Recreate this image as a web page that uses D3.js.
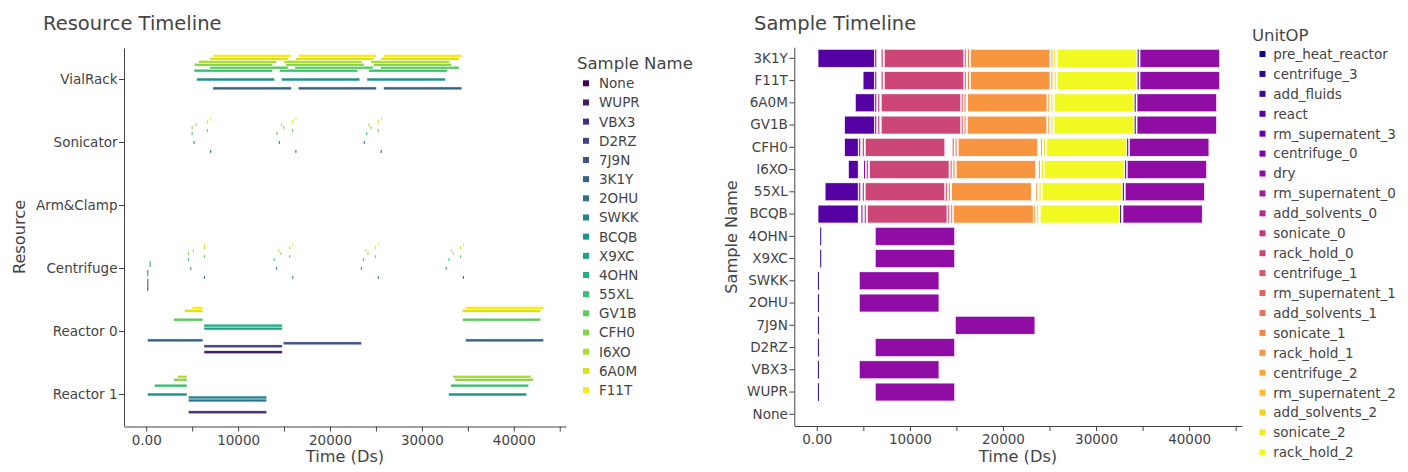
<!DOCTYPE html>
<html>
<head>
<meta charset="utf-8">
<script src="https://cdn.jsdelivr.net/npm/d3@7"></script>
<style>
  body { margin: 0; background: #fff; }
  svg { display: block; }
</style>
</head>
<body>
<svg id="chart" width="1408" height="472"></svg>
<script>
//Data
const samples = ['None', 'WUPR', 'VBX3', 'D2RZ', '7J9N', '3K1Y', '2OHU', 'SWKK', 'BCQB',
  'X9XC', '4OHN', '55XL', 'GV1B', 'CFH0', 'I6XO', '6A0M', 'F11T'];
const sampleRows = ['3K1Y', 'F11T', '6A0M', 'GV1B', 'CFH0', 'I6XO', '55XL', 'BCQB', '4OHN',
  'X9XC', 'SWKK', '2OHU', '7J9N', 'D2RZ', 'VBX3', 'WUPR', 'None'];
const resources = ['VialRack', 'Sonicator', 'Arm&Clamp', 'Centrifuge', 'Reactor 0', 'Reactor 1'];
const unitOps = ['pre_heat_reactor', 'centrifuge_3', 'add_fluids', 'react', 'rm_supernatent_3',
  'centrifuge_0', 'dry', 'rm_supernatent_0', 'add_solvents_0', 'sonicate_0', 'rack_hold_0',
  'centrifuge_1', 'rm_supernatent_1', 'add_solvents_1', 'sonicate_1', 'rack_hold_1',
  'centrifuge_2', 'rm_supernatent_2', 'add_solvents_2', 'sonicate_2', 'rack_hold_2'];
const xTicks = [0, 5000, 10000, 15000, 20000, 25000, 30000, 35000, 40000, 45000];
const xTickLabels = ['0.00', '', '10000', '', '20000', '', '30000', '', '40000', ''];

// [sample, resource, start, end]
const react = [
  ['3K1Y', 'Reactor 0', 140, 6170],
  ['F11T', 'Reactor 0', 4980, 6170],
  ['6A0M', 'Reactor 0', 4160, 6170],
  ['GV1B', 'Reactor 0', 3000, 6170],
  ['CFH0', 'Reactor 1', 3000, 4440],
  ['I6XO', 'Reactor 1', 3420, 4440],
  ['55XL', 'Reactor 1', 900, 4440],
  ['BCQB', 'Reactor 1', 140, 4440]
];
const dry = [
  ['3K1Y', 'Reactor 0', 34730, 43250],
  ['F11T', 'Reactor 0', 34730, 43250],
  ['6A0M', 'Reactor 0', 34410, 42930],
  ['GV1B', 'Reactor 0', 34410, 42930],
  ['CFH0', 'Reactor 1', 33600, 42120],
  ['I6XO', 'Reactor 1', 33370, 41860],
  ['55XL', 'Reactor 1', 33140, 41630],
  ['BCQB', 'Reactor 1', 32900, 41400],
  ['4OHN', 'Reactor 0', 6290, 14800],
  ['X9XC', 'Reactor 0', 6290, 14800],
  ['SWKK', 'Reactor 1', 4580, 13120],
  ['2OHU', 'Reactor 1', 4580, 13120],
  ['7J9N', 'Reactor 0', 14900, 23430],
  ['D2RZ', 'Reactor 0', 6290, 14800],
  ['VBX3', 'Reactor 1', 4580, 13120],
  ['WUPR', 'Reactor 0', 6290, 14800]
];

// [sample, start, end]  (VialRack)
const rackHold0 = [
  ['3K1Y', 7260, 15780], ['F11T', 7260, 15770], ['6A0M', 6935, 15445], ['GV1B', 6935, 15445],
  ['CFH0', 5225, 13750], ['I6XO', 5680, 14200], ['55XL', 5205, 13730], ['BCQB', 5460, 13980]
];
const rackHold1 = [
  ['3K1Y', 16540, 25045], ['F11T', 16540, 25045], ['6A0M', 16220, 24720], ['GV1B', 16180, 24690],
  ['CFH0', 15210, 23715], ['I6XO', 14990, 23480], ['55XL', 14500, 23030], ['BCQB', 14720, 23245]
];
const rackHold2 = [
  ['3K1Y', 25830, 34350], ['F11T', 25845, 34350], ['6A0M', 25540, 34050], ['GV1B', 25500, 34050],
  ['CFH0', 24720, 33250], ['I6XO', 24450, 33000], ['55XL', 24220, 32745], ['BCQB', 24020, 32550]
];

// [sample, start, end]  (Centrifuge)
const centrifuge0 = [
  ['3K1Y', 6280, 6360], ['F11T', 6280, 6360], ['6A0M', 6280, 6360], ['GV1B', 6280, 6360],
  ['CFH0', 4560, 4640], ['I6XO', 5080, 5160], ['55XL', 4560, 4640], ['BCQB', 4800, 4880]
];
const centrifuge1 = [
  ['3K1Y', 15900, 15980], ['F11T', 15900, 15980], ['6A0M', 15570, 15650], ['GV1B', 15570, 15650],
  ['CFH0', 14600, 14680], ['I6XO', 14380, 14460], ['55XL', 13870, 13950], ['BCQB', 14120, 14200]
];
const centrifuge2 = [
  ['3K1Y', 25200, 25280], ['F11T', 25200, 25280], ['6A0M', 24870, 24950], ['GV1B', 24870, 24950],
  ['CFH0', 24080, 24160], ['I6XO', 23860, 23940], ['55XL', 23570, 23650], ['BCQB', 23360, 23440]
];
const centrifuge3 = [
  ['3K1Y', 34470, 34550], ['F11T', 34470, 34550], ['6A0M', 34150, 34230], ['GV1B', 34150, 34230],
  ['CFH0', 33350, 33430], ['I6XO', 33130, 33210], ['55XL', 32880, 32960], ['BCQB', 32590, 32670],
  ['4OHN', 370, 450], ['X9XC', 370, 450], ['SWKK', 120, 200], ['2OHU', 120, 200],
  ['7J9N', 120, 200], ['D2RZ', 120, 200], ['VBX3', 120, 200], ['WUPR', 120, 200]
];

// [sample, start, end]  (Sonicator)
const sonicate0 = [
  ['3K1Y', 6960, 7080], ['F11T', 6960, 7080], ['6A0M', 6600, 6720], ['GV1B', 6600, 6720],
  ['CFH0', 4940, 5060], ['I6XO', 5370, 5490], ['55XL', 4940, 5060], ['BCQB', 5150, 5270]
];
const sonicate1 = [
  ['3K1Y', 16230, 16350], ['F11T', 16230, 16350], ['6A0M', 15870, 15990], ['GV1B', 15870, 15990],
  ['CFH0', 14900, 15020], ['I6XO', 14680, 14800], ['55XL', 14180, 14300], ['BCQB', 14430, 14550]
];
const sonicate2 = [
  ['3K1Y', 25510, 25630], ['F11T', 25550, 25670], ['6A0M', 25190, 25310], ['GV1B', 25190, 25310],
  ['CFH0', 24400, 24520], ['I6XO', 24180, 24300], ['55XL', 23930, 24050], ['BCQB', 23670, 23790]
];

//Flatten into one task list
const tasks = [];
const addRows = (rows, op, resource) => rows.forEach(r => {
  if (r.length === 4) tasks.push({ sample: r[0], op, resource: r[1], start: r[2], end: r[3] });
  else tasks.push({ sample: r[0], op, resource, start: r[1], end: r[2] });
});
addRows(react, 'react');
addRows(centrifuge0, 'centrifuge_0', 'Centrifuge');
addRows(sonicate0, 'sonicate_0', 'Sonicator');
addRows(rackHold0, 'rack_hold_0', 'VialRack');
addRows(centrifuge1, 'centrifuge_1', 'Centrifuge');
addRows(sonicate1, 'sonicate_1', 'Sonicator');
addRows(rackHold1, 'rack_hold_1', 'VialRack');
addRows(centrifuge2, 'centrifuge_2', 'Centrifuge');
addRows(sonicate2, 'sonicate_2', 'Sonicator');
addRows(rackHold2, 'rack_hold_2', 'VialRack');
addRows(centrifuge3, 'centrifuge_3', 'Centrifuge');
addRows(dry, 'dry');

//Styles
const FONT = '"DejaVu Sans", Verdana, sans-serif';
const INK = '#444';
const TICK_FS = 13.5;

const sampleColor = d3.scaleOrdinal(samples, samples.map((s, i) => d3.interpolateViridis(i / (samples.length - 1))));
const opColor = d3.scaleOrdinal(unitOps, unitOps.map((s, i) => d3.interpolatePlasma(i / (unitOps.length - 1))));

const svg = d3.select('#chart').attr('font-family', FONT);

const styleAxis = g => {
  g.attr('font-family', FONT).attr('font-size', TICK_FS);
  g.select('.domain').attr('stroke', INK);
  g.selectAll('.tick line').attr('stroke', INK);
  g.selectAll('.tick text').attr('fill', INK);
};

// draw a bar, thin ones get no outline so the colour survives
const drawBar = (g, x0, x1, y, h, fill) => {
  const w = x1 - x0;
  const r = g.append('rect')
    .attr('x', x0).attr('y', y)
    .attr('width', Math.max(w, 1)).attr('height', h)
    .attr('fill', fill);
  if (w >= 2) r.attr('stroke', 'white').attr('stroke-width', 0.5);
};

const X_DOMAIN = [-2415, 45680];

//Left: Resource Timeline
const xL = d3.scaleLinear(X_DOMAIN, [124, 566]);
const yL = d3.scaleBand(resources, [48, 426]).paddingInner(0.2).paddingOuter(0.1);
const slot = d3.scaleBand(samples.slice().reverse(), [0, yL.bandwidth()]);

const gL = svg.append('g');
samples.forEach(s => {
  tasks.filter(t => t.sample === s).forEach(t => {
    drawBar(gL, xL(t.start), xL(t.end), yL(t.resource) + slot(s), slot.bandwidth(), sampleColor(s));
  });
});

svg.append('g')
  .attr('transform', 'translate(0,426.5)')
  .call(d3.axisBottom(xL).tickValues(xTicks).tickFormat((d, i) => xTickLabels[i])
    .tickSize(5).tickSizeOuter(0).tickPadding(3.5))
  .call(styleAxis);

svg.append('g')
  .attr('transform', 'translate(124,0)')
  .call(d3.axisLeft(yL).tickSize(5).tickSizeOuter(0).tickPadding(1.5))
  .call(styleAxis);

svg.append('text').attr('x', 43).attr('y', 30)
  .attr('font-size', 19.5).attr('fill', INK).text('Resource Timeline');
svg.append('text').attr('x', 345).attr('y', 462).attr('text-anchor', 'middle')
  .attr('font-size', 16.2).attr('fill', INK).text('Time (Ds)');
svg.append('text').attr('transform', 'translate(25,237) rotate(-90)').attr('text-anchor', 'middle')
  .attr('font-size', 16.2).attr('fill', INK).text('Resource');

// legend
const legL = svg.append('g');
legL.append('text').attr('x', 577).attr('y', 69)
  .attr('font-size', 16.5).attr('fill', INK).text('Sample Name');
samples.forEach((s, i) => {
  const cy = 83.3 + i * 19.17;
  legL.append('rect').attr('x', 583).attr('y', cy - 3).attr('width', 6).attr('height', 6)
    .attr('fill', sampleColor(s));
  legL.append('text').attr('x', 599).attr('y', cy).attr('dy', '0.36em')
    .attr('font-size', 13.5).attr('fill', INK).text(s);
});

//Right: Sample Timeline
const xR = d3.scaleLinear(X_DOMAIN, [794.3, 1242]);
const yR = d3.scaleBand(sampleRows, [47.2, 425.4]).paddingInner(0.2).paddingOuter(0.1);

const gR = svg.append('g');
unitOps.forEach(op => {
  tasks.filter(t => t.op === op).forEach(t => {
    drawBar(gR, xR(t.start), xR(t.end), yR(t.sample), yR.bandwidth(), opColor(op));
  });
});

svg.append('g')
  .attr('transform', 'translate(0,426)')
  .call(d3.axisBottom(xR).tickValues(xTicks).tickFormat((d, i) => xTickLabels[i])
    .tickSize(5).tickSizeOuter(0).tickPadding(3.5))
  .call(styleAxis);

svg.append('g')
  .attr('transform', 'translate(794.3,0)')
  .call(d3.axisLeft(yR).tickSize(5).tickSizeOuter(0).tickPadding(1.5))
  .call(styleAxis);

svg.append('text').attr('x', 754).attr('y', 30)
  .attr('font-size', 19.5).attr('fill', INK).text('Sample Timeline');
svg.append('text').attr('x', 1018).attr('y', 462).attr('text-anchor', 'middle')
  .attr('font-size', 16.2).attr('fill', INK).text('Time (Ds)');
svg.append('text').attr('transform', 'translate(737,237) rotate(-90)').attr('text-anchor', 'middle')
  .attr('font-size', 16.2).attr('fill', INK).text('Sample Name');

const legR = svg.append('g');
legR.append('text').attr('x', 1252).attr('y', 41)
  .attr('font-size', 16.5).attr('fill', INK).text('UnitOP');
unitOps.forEach((op, i) => {
  const cy = 54 + i * 19.92;
  legR.append('rect').attr('x', 1259.5).attr('y', cy - 3).attr('width', 6).attr('height', 6)
    .attr('fill', opColor(op));
  legR.append('text').attr('x', 1273.3).attr('y', cy).attr('dy', '0.36em')
    .attr('font-size', 13.5).attr('fill', INK).text(op);
});
</script>
</body>
</html>
